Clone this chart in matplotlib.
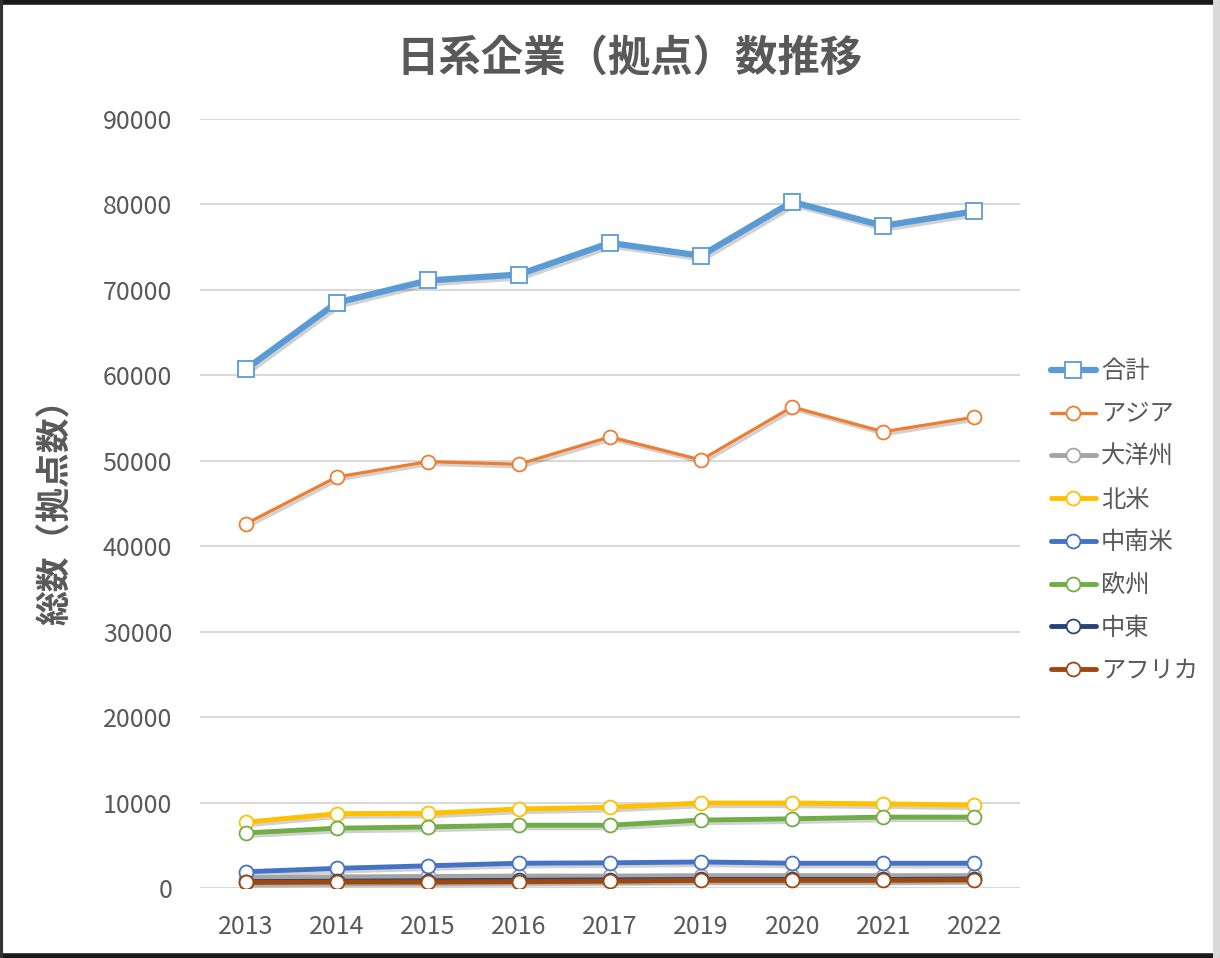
import matplotlib
matplotlib.use("Agg")
import matplotlib.pyplot as plt
import matplotlib.patheffects as pe
from matplotlib.lines import Line2D
import numpy as np

plt.rcParams['font.family'] = ['Noto Sans CJK JP', 'DejaVu Sans']

years = ['2013', '2014', '2015', '2016', '2017', '2019', '2020', '2021', '2022']

total = [60700, 68500, 71100, 71800, 75500, 74000, 80300, 77500, 79200]
asia = [42600, 48100, 49900, 49600, 52800, 50100, 56300, 53400, 55100]
oceania = [1200, 1300, 1350, 1400, 1400, 1450, 1450, 1450, 1450]
n_america = [7700, 8700, 8750, 9250, 9450, 9950, 9950, 9850, 9700]
latam = [1900, 2300, 2600, 2900, 2950, 3050, 2900, 2900, 2900]
europe = [6450, 7000, 7150, 7350, 7350, 7950, 8100, 8300, 8300]
mideast = [750, 800, 850, 900, 950, 1000, 1000, 1000, 1050]
africa = [650, 700, 700, 750, 800, 900, 900, 900, 950]

series = [
    ('合計', total, '#5B9BD5', 's', 4.5),
    ('アジア', asia, '#ED7D31', 'o', 2.3),
    ('大洋州', oceania, '#A5A5A5', 'o', 3.5),
    ('北米', n_america, '#FFC000', 'o', 3.5),
    ('中南米', latam, '#4472C4', 'o', 3.5),
    ('欧州', europe, '#70AD47', 'o', 3.5),
    ('中東', mideast, '#264478', 'o', 3.5),
    ('アフリカ', africa, '#9E480E', 'o', 3.5),
]

txt = '#595959'

fig = plt.figure(figsize=(12.2, 9.58), dpi=100)
ax = fig.add_axes([200/1220, 70/958, 820/1220, 769/958])

x = np.arange(len(years))
shadow = [pe.SimpleLineShadow(offset=(1.5, -2), shadow_color='black', alpha=0.18)]
for name, vals, col, mk, lw in series:
    ms = 11 if mk == 's' else 10
    # soft drop shadow under the line, like Excel
    ax.plot(x, vals, color=col, lw=lw, path_effects=shadow, alpha=0, zorder=2)
    ax.plot(x, vals, color=col, lw=lw, marker=mk, markersize=ms,
            markerfacecolor='white', markeredgecolor=col, markeredgewidth=1.3,
            label=name, solid_capstyle='round', zorder=3)

ax.set_xlim(-0.5, len(years) - 0.5)
ax.set_ylim(0, 90000)
ax.set_yticks(np.arange(0, 90001, 10000))
ax.set_xticks(x)
ax.set_xticklabels(years)
ax.tick_params(axis='both', length=0, labelsize=18, labelcolor=txt)
ax.tick_params(axis='x', pad=19)
ax.tick_params(axis='y', pad=20)
ax.grid(axis='y', color='#D9D9D9', lw=1.5)
ax.set_axisbelow(True)
for s in ax.spines.values():
    s.set_visible(False)

ax.set_ylabel('総数（拠点数）', fontsize=25, fontweight='bold', color=txt, labelpad=21)
fig.suptitle('日系企業（拠点）数推移', x=630/1220, y=(958-59)/958, va='center',
             fontsize=30.5, fontweight='bold', color=txt)

fig.legend(loc='center left', bbox_to_anchor=(1029/1220, (958-521)/958),
           frameon=False, fontsize=17.5, handlelength=1.85, handletextpad=0.2,
           labelspacing=0.69, labelcolor=txt)

# outer frame of the screenshot
fig.add_artist(Line2D([0, 1], [0.998, 0.998], transform=fig.transFigure, color='#1a1a1a', lw=4))
fig.add_artist(Line2D([0, 1], [0.002, 0.002], transform=fig.transFigure, color='#1a1a1a', lw=4))
fig.add_artist(Line2D([0.001, 0.001], [0, 1], transform=fig.transFigure, color='#333333', lw=3))
fig.add_artist(Line2D([0.997, 0.997], [0, 1], transform=fig.transFigure, color='#D9D9D9', lw=5))

fig.savefig('out.png', dpi=100)
